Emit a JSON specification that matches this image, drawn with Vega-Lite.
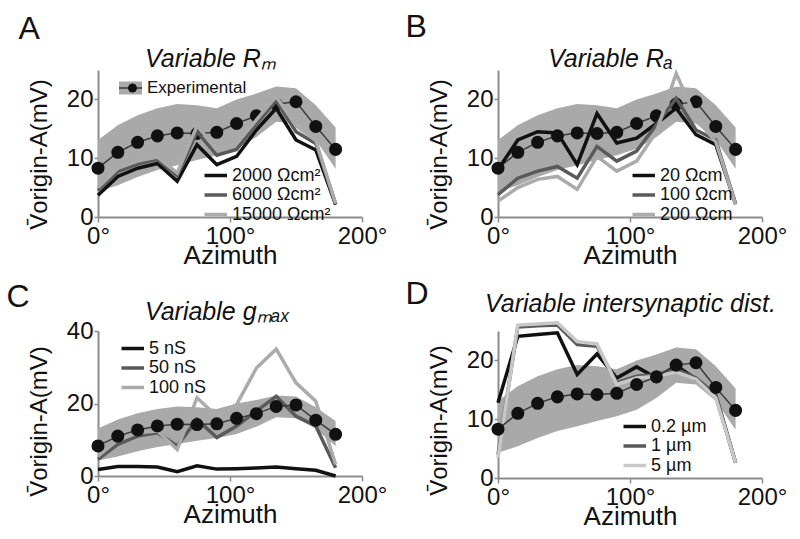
{
  "$schema": "https://vega.github.io/schema/vega-lite/v6.json",
  "padding": {"left": 6, "top": 10, "right": 5, "bottom": 5},
  "background": "white",
  "datasets": {
    "exp": [
      {"az": 0, "mean": 8.3, "lo": 4.3, "hi": 13.1, "label": "Experimental"},
      {"az": 15, "mean": 11.0, "lo": 5.4, "hi": 15.6, "label": "Experimental"},
      {"az": 30, "mean": 12.7, "lo": 6.8, "hi": 17.3, "label": "Experimental"},
      {"az": 45, "mean": 13.8, "lo": 8.0, "hi": 18.5, "label": "Experimental"},
      {"az": 60, "mean": 14.3, "lo": 8.8, "hi": 19.2, "label": "Experimental"},
      {"az": 75, "mean": 14.2, "lo": 9.7, "hi": 19.0, "label": "Experimental"},
      {"az": 90, "mean": 14.4, "lo": 10.5, "hi": 18.5, "label": "Experimental"},
      {"az": 105, "mean": 15.9, "lo": 11.6, "hi": 20.0, "label": "Experimental"},
      {"az": 120, "mean": 17.2, "lo": 13.6, "hi": 21.0, "label": "Experimental"},
      {"az": 135, "mean": 19.2, "lo": 16.2, "hi": 22.2, "label": "Experimental"},
      {"az": 150, "mean": 19.6, "lo": 15.9, "hi": 21.9, "label": "Experimental"},
      {"az": 165, "mean": 15.4, "lo": 13.1, "hi": 19.0, "label": "Experimental"},
      {"az": 180, "mean": 11.5, "lo": 8.2, "hi": 15.2, "label": "Experimental"}
    ],
    "rm": [
      {"az": 0, "v": 3.7, "model": "2000 Ωcm²"}, {"az": 15, "v": 6.9, "model": "2000 Ωcm²"}, {"az": 30, "v": 8.3, "model": "2000 Ωcm²"}, {"az": 45, "v": 9.1, "model": "2000 Ωcm²"}, {"az": 60, "v": 6.1, "model": "2000 Ωcm²"}, {"az": 75, "v": 12.3, "model": "2000 Ωcm²"}, {"az": 90, "v": 8.9, "model": "2000 Ωcm²"}, {"az": 105, "v": 10.3, "model": "2000 Ωcm²"}, {"az": 120, "v": 14.8, "model": "2000 Ωcm²"}, {"az": 135, "v": 18.5, "model": "2000 Ωcm²"}, {"az": 150, "v": 13.1, "model": "2000 Ωcm²"}, {"az": 165, "v": 11.4, "model": "2000 Ωcm²"}, {"az": 180, "v": 2.1, "model": "2000 Ωcm²"},
      {"az": 0, "v": 4.5, "model": "6000 Ωcm²"}, {"az": 15, "v": 7.7, "model": "6000 Ωcm²"}, {"az": 30, "v": 9.0, "model": "6000 Ωcm²"}, {"az": 45, "v": 9.8, "model": "6000 Ωcm²"}, {"az": 60, "v": 7.0, "model": "6000 Ωcm²"}, {"az": 75, "v": 14.5, "model": "6000 Ωcm²"}, {"az": 90, "v": 10.5, "model": "6000 Ωcm²"}, {"az": 105, "v": 11.5, "model": "6000 Ωcm²"}, {"az": 120, "v": 15.8, "model": "6000 Ωcm²"}, {"az": 135, "v": 19.8, "model": "6000 Ωcm²"}, {"az": 150, "v": 14.5, "model": "6000 Ωcm²"}, {"az": 165, "v": 12.5, "model": "6000 Ωcm²"}, {"az": 180, "v": 2.2, "model": "6000 Ωcm²"},
      {"az": 0, "v": 5.0, "model": "15000 Ωcm²"}, {"az": 15, "v": 8.3, "model": "15000 Ωcm²"}, {"az": 30, "v": 9.5, "model": "15000 Ωcm²"}, {"az": 45, "v": 10.2, "model": "15000 Ωcm²"}, {"az": 60, "v": 7.5, "model": "15000 Ωcm²"}, {"az": 75, "v": 15.5, "model": "15000 Ωcm²"}, {"az": 90, "v": 11.5, "model": "15000 Ωcm²"}, {"az": 105, "v": 12.5, "model": "15000 Ωcm²"}, {"az": 120, "v": 16.5, "model": "15000 Ωcm²"}, {"az": 135, "v": 20.5, "model": "15000 Ωcm²"}, {"az": 150, "v": 15.5, "model": "15000 Ωcm²"}, {"az": 165, "v": 13.0, "model": "15000 Ωcm²"}, {"az": 180, "v": 2.3, "model": "15000 Ωcm²"}
    ],
    "ra": [
      {"az": 0, "v": 8.1, "model": "20 Ωcm"}, {"az": 15, "v": 13.1, "model": "20 Ωcm"}, {"az": 30, "v": 14.5, "model": "20 Ωcm"}, {"az": 45, "v": 14.3, "model": "20 Ωcm"}, {"az": 60, "v": 8.9, "model": "20 Ωcm"}, {"az": 75, "v": 17.6, "model": "20 Ωcm"}, {"az": 90, "v": 12.6, "model": "20 Ωcm"}, {"az": 105, "v": 13.4, "model": "20 Ωcm"}, {"az": 120, "v": 15.9, "model": "20 Ωcm"}, {"az": 135, "v": 18.5, "model": "20 Ωcm"}, {"az": 150, "v": 14.0, "model": "20 Ωcm"}, {"az": 165, "v": 12.3, "model": "20 Ωcm"}, {"az": 180, "v": 2.2, "model": "20 Ωcm"},
      {"az": 0, "v": 3.8, "model": "100 Ωcm"}, {"az": 15, "v": 6.6, "model": "100 Ωcm"}, {"az": 30, "v": 7.8, "model": "100 Ωcm"}, {"az": 45, "v": 8.6, "model": "100 Ωcm"}, {"az": 60, "v": 6.6, "model": "100 Ωcm"}, {"az": 75, "v": 12.0, "model": "100 Ωcm"}, {"az": 90, "v": 9.5, "model": "100 Ωcm"}, {"az": 105, "v": 11.2, "model": "100 Ωcm"}, {"az": 120, "v": 15.7, "model": "100 Ωcm"}, {"az": 135, "v": 20.2, "model": "100 Ωcm"}, {"az": 150, "v": 14.8, "model": "100 Ωcm"}, {"az": 165, "v": 13.1, "model": "100 Ωcm"}, {"az": 180, "v": 2.2, "model": "100 Ωcm"},
      {"az": 0, "v": 2.7, "model": "200 Ωcm"}, {"az": 15, "v": 5.0, "model": "200 Ωcm"}, {"az": 30, "v": 6.4, "model": "200 Ωcm"}, {"az": 45, "v": 6.9, "model": "200 Ωcm"}, {"az": 60, "v": 4.7, "model": "200 Ωcm"}, {"az": 75, "v": 10.3, "model": "200 Ωcm"}, {"az": 90, "v": 7.8, "model": "200 Ωcm"}, {"az": 105, "v": 9.5, "model": "200 Ωcm"}, {"az": 120, "v": 14.5, "model": "200 Ωcm"}, {"az": 135, "v": 24.4, "model": "200 Ωcm"}, {"az": 150, "v": 16.8, "model": "200 Ωcm"}, {"az": 165, "v": 12.8, "model": "200 Ωcm"}, {"az": 180, "v": 2.1, "model": "200 Ωcm"}
    ],
    "gmax": [
      {"az": 0, "v": 1.8, "model": "5 nS"}, {"az": 15, "v": 2.6, "model": "5 nS"}, {"az": 30, "v": 2.6, "model": "5 nS"}, {"az": 45, "v": 2.5, "model": "5 nS"}, {"az": 60, "v": 1.2, "model": "5 nS"}, {"az": 75, "v": 2.8, "model": "5 nS"}, {"az": 90, "v": 1.9, "model": "5 nS"}, {"az": 105, "v": 2.0, "model": "5 nS"}, {"az": 120, "v": 2.2, "model": "5 nS"}, {"az": 135, "v": 2.5, "model": "5 nS"}, {"az": 150, "v": 2.0, "model": "5 nS"}, {"az": 165, "v": 1.6, "model": "5 nS"}, {"az": 180, "v": 0.0, "model": "5 nS"},
      {"az": 0, "v": 4.6, "model": "50 nS"}, {"az": 15, "v": 8.7, "model": "50 nS"}, {"az": 30, "v": 11.0, "model": "50 nS"}, {"az": 45, "v": 11.9, "model": "50 nS"}, {"az": 60, "v": 8.3, "model": "50 nS"}, {"az": 75, "v": 15.6, "model": "50 nS"}, {"az": 90, "v": 10.6, "model": "50 nS"}, {"az": 105, "v": 13.8, "model": "50 nS"}, {"az": 120, "v": 17.9, "model": "50 nS"}, {"az": 135, "v": 22.0, "model": "50 nS"}, {"az": 150, "v": 16.5, "model": "50 nS"}, {"az": 165, "v": 13.8, "model": "50 nS"}, {"az": 180, "v": 2.3, "model": "50 nS"},
      {"az": 0, "v": 5.5, "model": "100 nS"}, {"az": 15, "v": 10.1, "model": "100 nS"}, {"az": 30, "v": 11.9, "model": "100 nS"}, {"az": 45, "v": 12.4, "model": "100 nS"}, {"az": 60, "v": 7.3, "model": "100 nS"}, {"az": 75, "v": 21.6, "model": "100 nS"}, {"az": 90, "v": 16.5, "model": "100 nS"}, {"az": 105, "v": 19.7, "model": "100 nS"}, {"az": 120, "v": 29.8, "model": "100 nS"}, {"az": 135, "v": 35.0, "model": "100 nS"}, {"az": 150, "v": 25.7, "model": "100 nS"}, {"az": 165, "v": 20.6, "model": "100 nS"}, {"az": 180, "v": 3.2, "model": "100 nS"}
    ],
    "dist": [
      {"az": 0, "v": 12.8, "model": "0.2 µm"}, {"az": 15, "v": 24.1, "model": "0.2 µm"}, {"az": 30, "v": 24.4, "model": "0.2 µm"}, {"az": 45, "v": 24.7, "model": "0.2 µm"}, {"az": 60, "v": 17.6, "model": "0.2 µm"}, {"az": 75, "v": 21.1, "model": "0.2 µm"}, {"az": 90, "v": 17.0, "model": "0.2 µm"}, {"az": 105, "v": 18.9, "model": "0.2 µm"}, {"az": 120, "v": 17.0, "model": "0.2 µm"}, {"az": 135, "v": 19.1, "model": "0.2 µm"}, {"az": 150, "v": 16.8, "model": "0.2 µm"}, {"az": 165, "v": 13.9, "model": "0.2 µm"}, {"az": 180, "v": 2.6, "model": "0.2 µm"},
      {"az": 0, "v": 4.0, "model": "1 µm"}, {"az": 15, "v": 25.7, "model": "1 µm"}, {"az": 30, "v": 25.9, "model": "1 µm"}, {"az": 45, "v": 26.0, "model": "1 µm"}, {"az": 60, "v": 22.7, "model": "1 µm"}, {"az": 75, "v": 22.4, "model": "1 µm"}, {"az": 90, "v": 16.2, "model": "1 µm"}, {"az": 105, "v": 17.3, "model": "1 µm"}, {"az": 120, "v": 17.6, "model": "1 µm"}, {"az": 135, "v": 18.5, "model": "1 µm"}, {"az": 150, "v": 17.0, "model": "1 µm"}, {"az": 165, "v": 14.2, "model": "1 µm"}, {"az": 180, "v": 2.6, "model": "1 µm"},
      {"az": 0, "v": 3.4, "model": "5 µm"}, {"az": 15, "v": 26.0, "model": "5 µm"}, {"az": 30, "v": 26.2, "model": "5 µm"}, {"az": 45, "v": 26.4, "model": "5 µm"}, {"az": 60, "v": 23.2, "model": "5 µm"}, {"az": 75, "v": 22.8, "model": "5 µm"}, {"az": 90, "v": 15.9, "model": "5 µm"}, {"az": 105, "v": 17.0, "model": "5 µm"}, {"az": 120, "v": 17.3, "model": "5 µm"}, {"az": 135, "v": 18.0, "model": "5 µm"}, {"az": 150, "v": 16.8, "model": "5 µm"}, {"az": 165, "v": 13.6, "model": "5 µm"}, {"az": 180, "v": 2.6, "model": "5 µm"}
    ]
  },
  "bounds": "flush",
  "spacing": 261,
  "resolve": {"scale": {"color": "independent", "y": "independent", "x": "independent"}, "legend": {"color": "independent"}},
  "vconcat": [
    {
      "bounds": "flush",
      "spacing": 136,
      "resolve": {"scale": {"color": "independent", "y": "independent", "x": "independent"}, "legend": {"color": "independent"}},
      "hconcat": [
        {
          "width": 264, "height": 147,
          "resolve": {"axis": {"x": "independent"}},
          "layer": [
            {"data": {"name": "exp"}, "mark": {"type": "area", "opacity": 1},
             "encoding": {
              "x": {"field": "az", "type": "quantitative", "scale": {"domain": [0, 200], "nice": false}, "axis": {"values": [0, 100, 200], "labelExpr": "datum.value + '°'", "labelFlush": false, "title": "Azimuth"}},
              "y": {"field": "lo", "type": "quantitative", "scale": {"domain": [0, 25], "nice": false}, "axis": {"values": [0, 10, 20], "title": "V̄origin-A(mV)", "titleY": 84}}, "y2": {"field": "hi"},
              "fill": {"datum": "Experimental", "type": "nominal", "scale": {"range": ["#a9a9a9"]}, "legend": {"title": null, "legendX": 24, "legendY": 9.5, "symbolType": "M-1.77,-1H1.77V1H-1.77Z", "symbolSize": 169, "labelOffset": 8, "labelFontSize": 17, "symbolStrokeWidth": 0, "symbolOpacity": 1}}}},
            {"data": {"name": "exp"}, "mark": {"type": "line", "color": "#3a3a3a", "strokeWidth": 1.5},
             "encoding": {
              "x": {"field": "az", "type": "quantitative", "axis": {"orient": "top", "domain": false, "ticks": false, "labels": false, "title": "A", "titleX": -80, "titleY": -32, "titleAlign": "left", "titleBaseline": "alphabetic", "titleAngle": 0, "titleFontSize": 32}},
              "y": {"field": "mean", "type": "quantitative", "axis": {"values": [0, 10, 20], "title": "V̄origin-A(mV)", "titleY": 84}},
              "strokeDash": {"datum": "ExpLine", "type": "nominal", "scale": {"range": [[1, 0]]}, "legend": {"title": null, "legendX": 24, "legendY": 9.5, "symbolType": "M-1.77,0H1.77", "symbolSize": 169, "symbolStrokeColor": "#3a3a3a", "symbolStrokeWidth": 1.5, "labelOpacity": 0, "labelFontSize": 17}}}},
            {"data": {"name": "exp"}, "mark": {"type": "point", "filled": true, "size": 170, "color": "#111111", "opacity": 1},
             "encoding": {
              "x": {"field": "az", "type": "quantitative", "axis": {"orient": "top", "domain": false, "ticks": false, "labels": false, "title": "Variable Rₘ", "titleX": 112, "titleY": -4, "titleAlign": "center", "titleBaseline": "alphabetic", "titleAngle": 0, "titleFontSize": 25, "titleFontStyle": "italic"}},
              "y": {"field": "mean", "type": "quantitative", "axis": {"values": [0, 10, 20], "title": "V̄origin-A(mV)", "titleY": 84}},
              "shape": {"field": "label", "type": "nominal", "scale": {"range": ["circle"]}, "legend": {"title": null, "legendX": 26, "legendY": 9.5, "symbolSize": 80, "symbolFillColor": "#111111", "symbolStrokeWidth": 0, "labelOpacity": 0, "labelFontSize": 17}}}},
            {"data": {"name": "rm"}, "mark": {"type": "line", "strokeWidth": 3.5},
             "encoding": {
              "x": {"field": "az", "type": "quantitative", "axis": null},
              "y": {"field": "v", "type": "quantitative", "axis": {"values": [0, 10, 20], "title": "V̄origin-A(mV)", "titleY": 84}},
              "color": {"field": "model", "type": "nominal", "sort": null, "scale": {"domain": ["2000 Ωcm²", "6000 Ωcm²", "15000 Ωcm²"], "range": ["#111111", "#5a5a5a", "#ababab"]},
               "legend": {"title": null, "legendX": 112, "legendY": 96}}}}
          ]
        },
        {
          "width": 264, "height": 147,
          "resolve": {"axis": {"x": "independent"}},
          "layer": [
            {"data": {"name": "exp"}, "mark": {"type": "area", "color": "#a9a9a9", "opacity": 1},
             "encoding": {
              "x": {"field": "az", "type": "quantitative", "scale": {"domain": [0, 200], "nice": false}, "axis": {"values": [0, 100, 200], "labelExpr": "datum.value + '°'", "labelFlush": false, "title": "Azimuth"}},
              "y": {"field": "lo", "type": "quantitative", "scale": {"domain": [0, 25], "nice": false}, "axis": {"values": [0, 10, 20], "title": "V̄origin-A(mV)", "titleY": 84}}, "y2": {"field": "hi"}}},
            {"data": {"name": "exp"}, "mark": {"type": "line", "color": "#3a3a3a", "strokeWidth": 1.5},
             "encoding": {
              "x": {"field": "az", "type": "quantitative", "axis": {"orient": "top", "domain": false, "ticks": false, "labels": false, "title": "B", "titleX": -93, "titleY": -34, "titleAlign": "left", "titleBaseline": "alphabetic", "titleAngle": 0, "titleFontSize": 32}},
              "y": {"field": "mean", "type": "quantitative", "axis": {"values": [0, 10, 20], "title": "V̄origin-A(mV)", "titleY": 84}}}},
            {"data": {"name": "exp"}, "mark": {"type": "point", "filled": true, "size": 170, "color": "#111111", "opacity": 1},
             "encoding": {
              "x": {"field": "az", "type": "quantitative", "axis": {"orient": "top", "domain": false, "ticks": false, "labels": false, "title": "Variable Rₐ", "titleX": 112, "titleY": -4, "titleAlign": "center", "titleBaseline": "alphabetic", "titleAngle": 0, "titleFontSize": 25, "titleFontStyle": "italic"}},
              "y": {"field": "mean", "type": "quantitative", "axis": {"values": [0, 10, 20], "title": "V̄origin-A(mV)", "titleY": 84}}}},
            {"data": {"name": "ra"}, "mark": {"type": "line", "strokeWidth": 3.5},
             "encoding": {
              "x": {"field": "az", "type": "quantitative", "axis": null},
              "y": {"field": "v", "type": "quantitative", "axis": {"values": [0, 10, 20], "title": "V̄origin-A(mV)", "titleY": 84}},
              "color": {"field": "model", "type": "nominal", "sort": null, "scale": {"domain": ["20 Ωcm", "100 Ωcm", "200 Ωcm"], "range": ["#111111", "#5a5a5a", "#ababab"]},
               "legend": {"title": null, "legendX": 140, "legendY": 96}}}}
          ]
        }
      ]
    },
    {
      "bounds": "flush",
      "spacing": 136,
      "resolve": {"scale": {"color": "independent", "y": "independent", "x": "independent"}, "legend": {"color": "independent"}},
      "hconcat": [
        {
          "width": 264, "height": 145,
          "resolve": {"axis": {"x": "independent"}},
          "layer": [
            {"data": {"name": "exp"}, "mark": {"type": "area", "color": "#a9a9a9", "opacity": 1},
             "encoding": {
              "x": {"field": "az", "type": "quantitative", "scale": {"domain": [0, 200], "nice": false}, "axis": {"values": [0, 100, 200], "labelExpr": "datum.value + '°'", "labelFlush": false, "title": "Azimuth"}},
              "y": {"field": "lo", "type": "quantitative", "scale": {"domain": [0, 40], "nice": false}, "axis": {"values": [0, 20, 40], "title": "V̄origin-A(mV)", "titleY": 90}}, "y2": {"field": "hi"}}},
            {"data": {"name": "gmax"}, "mark": {"type": "line", "strokeWidth": 3.5},
             "encoding": {
              "x": {"field": "az", "type": "quantitative", "axis": null},
              "y": {"field": "v", "type": "quantitative", "axis": {"values": [0, 20, 40], "title": "V̄origin-A(mV)", "titleY": 90}},
              "color": {"field": "model", "type": "nominal", "sort": null, "scale": {"domain": ["5 nS", "50 nS", "100 nS"], "range": ["#111111", "#5a5a5a", "#ababab"]},
               "legend": {"title": null, "legendX": 29, "legendY": 8}}}},
            {"data": {"name": "exp"}, "mark": {"type": "line", "color": "#3a3a3a", "strokeWidth": 1.5},
             "encoding": {
              "x": {"field": "az", "type": "quantitative", "axis": {"orient": "top", "domain": false, "ticks": false, "labels": false, "title": "C", "titleX": -92, "titleY": -25, "titleAlign": "left", "titleBaseline": "alphabetic", "titleAngle": 0, "titleFontSize": 32}},
              "y": {"field": "mean", "type": "quantitative", "axis": {"values": [0, 20, 40], "title": "V̄origin-A(mV)", "titleY": 90}}}},
            {"data": {"name": "exp"}, "mark": {"type": "point", "filled": true, "size": 170, "color": "#111111", "opacity": 1},
             "encoding": {
              "x": {"field": "az", "type": "quantitative", "axis": {"orient": "top", "domain": false, "ticks": false, "labels": false, "title": "Variable gₘₐₓ", "titleX": 119, "titleY": -12, "titleAlign": "center", "titleBaseline": "alphabetic", "titleAngle": 0, "titleFontSize": 25, "titleFontStyle": "italic"}},
              "y": {"field": "mean", "type": "quantitative", "axis": {"values": [0, 20, 40], "title": "V̄origin-A(mV)", "titleY": 90}}}}
          ]
        },
        {
          "width": 264, "height": 147,
          "resolve": {"axis": {"x": "independent"}},
          "layer": [
            {"data": {"name": "exp"}, "mark": {"type": "area", "color": "#a9a9a9", "opacity": 1},
             "encoding": {
              "x": {"field": "az", "type": "quantitative", "scale": {"domain": [0, 200], "nice": false}, "axis": {"values": [0, 100, 200], "labelExpr": "datum.value + '°'", "labelFlush": false, "title": "Azimuth"}},
              "y": {"field": "lo", "type": "quantitative", "scale": {"domain": [0, 25], "nice": false}, "axis": {"values": [0, 10, 20], "title": "V̄origin-A(mV)", "titleY": 89}}, "y2": {"field": "hi"}}},
            {"data": {"name": "dist"}, "mark": {"type": "line", "strokeWidth": 3.5},
             "encoding": {
              "x": {"field": "az", "type": "quantitative", "axis": null},
              "y": {"field": "v", "type": "quantitative", "axis": {"values": [0, 10, 20], "title": "V̄origin-A(mV)", "titleY": 89}},
              "color": {"field": "model", "type": "nominal", "sort": null, "scale": {"domain": ["0.2 µm", "1 µm", "5 µm"], "range": ["#111111", "#5a5a5a", "#c8c8c8"]},
               "legend": {"title": null, "legendX": 131, "legendY": 86}}}},
            {"data": {"name": "exp"}, "mark": {"type": "line", "color": "#3a3a3a", "strokeWidth": 1.5},
             "encoding": {
              "x": {"field": "az", "type": "quantitative", "axis": {"orient": "top", "domain": false, "ticks": false, "labels": false, "title": "D", "titleX": -93, "titleY": -28, "titleAlign": "left", "titleBaseline": "alphabetic", "titleAngle": 0, "titleFontSize": 32}},
              "y": {"field": "mean", "type": "quantitative", "axis": {"values": [0, 10, 20], "title": "V̄origin-A(mV)", "titleY": 89}}}},
            {"data": {"name": "exp"}, "mark": {"type": "point", "filled": true, "size": 170, "color": "#111111", "opacity": 1},
             "encoding": {
              "x": {"field": "az", "type": "quantitative", "axis": {"orient": "top", "domain": false, "ticks": false, "labels": false, "title": "Variable intersynaptic dist.", "titleX": 132, "titleY": -20, "titleAlign": "center", "titleBaseline": "alphabetic", "titleAngle": 0, "titleFontSize": 25, "titleFontStyle": "italic"}},
              "y": {"field": "mean", "type": "quantitative", "axis": {"values": [0, 10, 20], "title": "V̄origin-A(mV)", "titleY": 89}}}}
          ]
        }
      ]
    }
  ],
  "config": {
    "view": {"stroke": null},
    "font": "Liberation Sans",
    "axis": {"grid": false, "domainColor": "#8c8c8c", "domainWidth": 2, "tickColor": "#8c8c8c", "tickWidth": 1.5, "labelColor": "#111111", "titleColor": "#111111", "labelFont": "Liberation Sans", "titleFont": "Liberation Sans", "labelFontSize": 24, "titleFontSize": 26, "titleFontWeight": "normal"},
    "axisX": {"tickSize": 5, "labelPadding": 2, "titlePadding": -6},
    "axisY": {"tickSize": 4, "labelPadding": 1, "titlePadding": 15, "titleFontSize": 24, "labelFlush": false},
    "legend": {"orient": "none", "padding": 0, "labelFont": "Liberation Sans", "labelFontSize": 18, "labelColor": "#111111", "symbolType": "M-2,0H1", "symbolSize": 225, "symbolStrokeWidth": 3.5, "labelOffset": 3, "rowPadding": 0.5},
    "title": {"font": "Liberation Sans", "fontWeight": "normal", "color": "#111111"}
  }
}
